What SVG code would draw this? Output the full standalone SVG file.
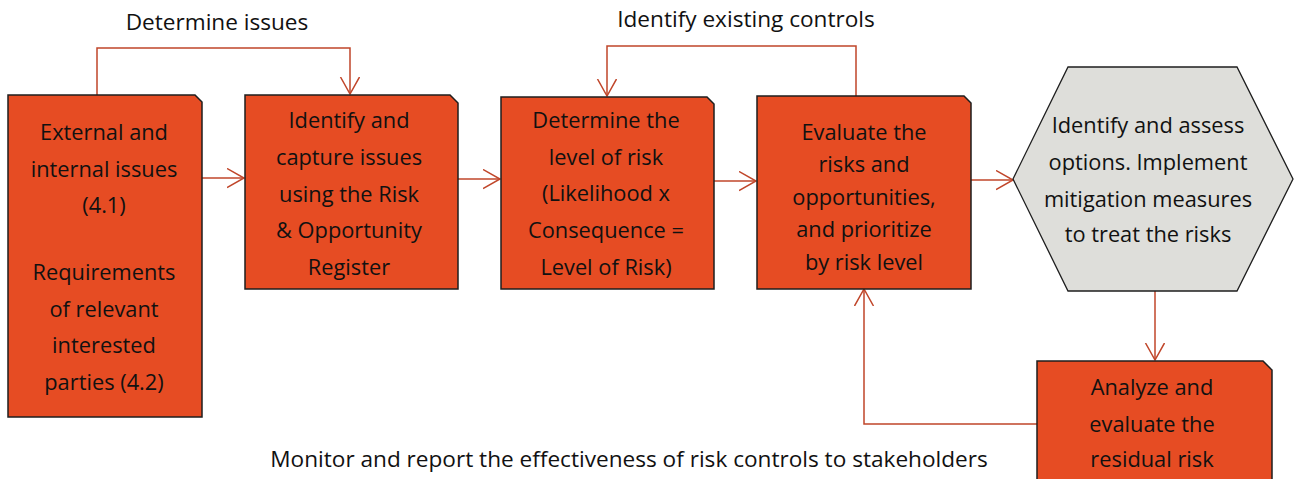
<svg xmlns="http://www.w3.org/2000/svg" width="1299" height="479" viewBox="0 0 1299 479">
<defs>
<marker id="arr" markerWidth="20" markerHeight="22" refX="17" refY="10" orient="auto" markerUnits="userSpaceOnUse">
<path d="M0,0.5 L17,10 L0,19.5" fill="none" stroke="#C0462A" stroke-width="1.5"/>
</marker>
</defs>
<style>
.node{fill:#E64C23;stroke:#1E1E1E;stroke-width:1.5}
.hex{fill:#DEDEDA;stroke:#1E1E1E;stroke-width:1.3}
.t{font-family:"Open Sans","Noto Sans",sans-serif;font-size:21.8px;fill:#111;text-anchor:middle}
.lbl{font-family:"Open Sans","Noto Sans",sans-serif;font-size:22.6px;fill:#111;text-anchor:middle}
.c{fill:none;stroke:#C0462A;stroke-width:1.5}
</style>
<rect width="1299" height="479" fill="#fff"/>
<g id="connectors">
<path class="c" d="M97,95 V48 H350 V94" marker-end="url(#arr)"/>
<path class="c" d="M856,96 V46 H607 V96" marker-end="url(#arr)"/>
<path class="c" d="M202,178 H244" marker-end="url(#arr)"/>
<path class="c" d="M458,179 H500" marker-end="url(#arr)"/>
<path class="c" d="M714,181 H756" marker-end="url(#arr)"/>
<path class="c" d="M971,180 H1013" marker-end="url(#arr)"/>
<path class="c" d="M1155,291 V360" marker-end="url(#arr)"/>
<path class="c" d="M1037,424 H864 V289" marker-end="url(#arr)"/>
</g>
<g id="label-determine"><text class="lbl" x="217" y="30">Determine issues</text></g>
<g id="label-identify"><text class="lbl" x="746" y="27">Identify existing controls</text></g>
<g id="label-monitor"><text class="lbl" x="629" y="467">Monitor and report the effectiveness of risk controls to stakeholders</text></g>
<g id="n1">
<path class="node" d="M8,95 H195 L202,102 V417 H8 Z"/>
<text class="t" x="104" y="140">External and</text>
<text class="t" x="104" y="176.7">internal issues</text>
<text class="t" x="104" y="213.3">(4.1)</text>
<text class="t" x="104" y="280">Requirements</text>
<text class="t" x="104" y="316.7">of relevant</text>
<text class="t" x="104" y="353.3">interested</text>
<text class="t" x="104" y="390">parties (4.2)</text>
</g>
<g id="n2">
<path class="node" d="M245,95 H450 L458,103 V289 H245 Z"/>
<text class="t" x="349" y="128">Identify and</text>
<text class="t" x="349" y="165">capture issues</text>
<text class="t" x="349" y="202">using the Risk</text>
<text class="t" x="349" y="238">&amp; Opportunity</text>
<text class="t" x="349" y="275">Register</text>
</g>
<g id="n3">
<path class="node" d="M501,97 H707 L714,104 V289 H501 Z"/>
<text class="t" x="606" y="128">Determine the</text>
<text class="t" x="606" y="165">level of risk</text>
<text class="t" x="606" y="201">(Likelihood x</text>
<text class="t" x="606" y="238">Consequence =</text>
<text class="t" x="606" y="275">Level of Risk)</text>
</g>
<g id="n4">
<path class="node" d="M757,96 H964 L971,103 V289 H757 Z"/>
<text class="t" x="864" y="139.5">Evaluate the</text>
<text class="t" x="864" y="172">risks and</text>
<text class="t" x="864" y="204.5">opportunities,</text>
<text class="t" x="864" y="237">and prioritize</text>
<text class="t" x="864" y="269.5">by risk level</text>
</g>
<g id="n5">
<path class="hex" d="M1013,179 L1068,67 H1237 L1293,179 L1237,291 H1068 Z"/>
<text class="t" x="1148" y="133">Identify and assess</text>
<text class="t" x="1148" y="170">options. Implement</text>
<text class="t" x="1148" y="206.5">mitigation measures</text>
<text class="t" x="1148" y="241.5">to treat the risks</text>
</g>
<g id="n6">
<path class="node" d="M1037,361 H1263 L1272,370 V495 H1037 Z"/>
<text class="t" x="1152" y="395">Analyze and</text>
<text class="t" x="1152" y="431.7">evaluate the</text>
<text class="t" x="1152" y="466.7">residual risk</text>
</g>
</svg>
